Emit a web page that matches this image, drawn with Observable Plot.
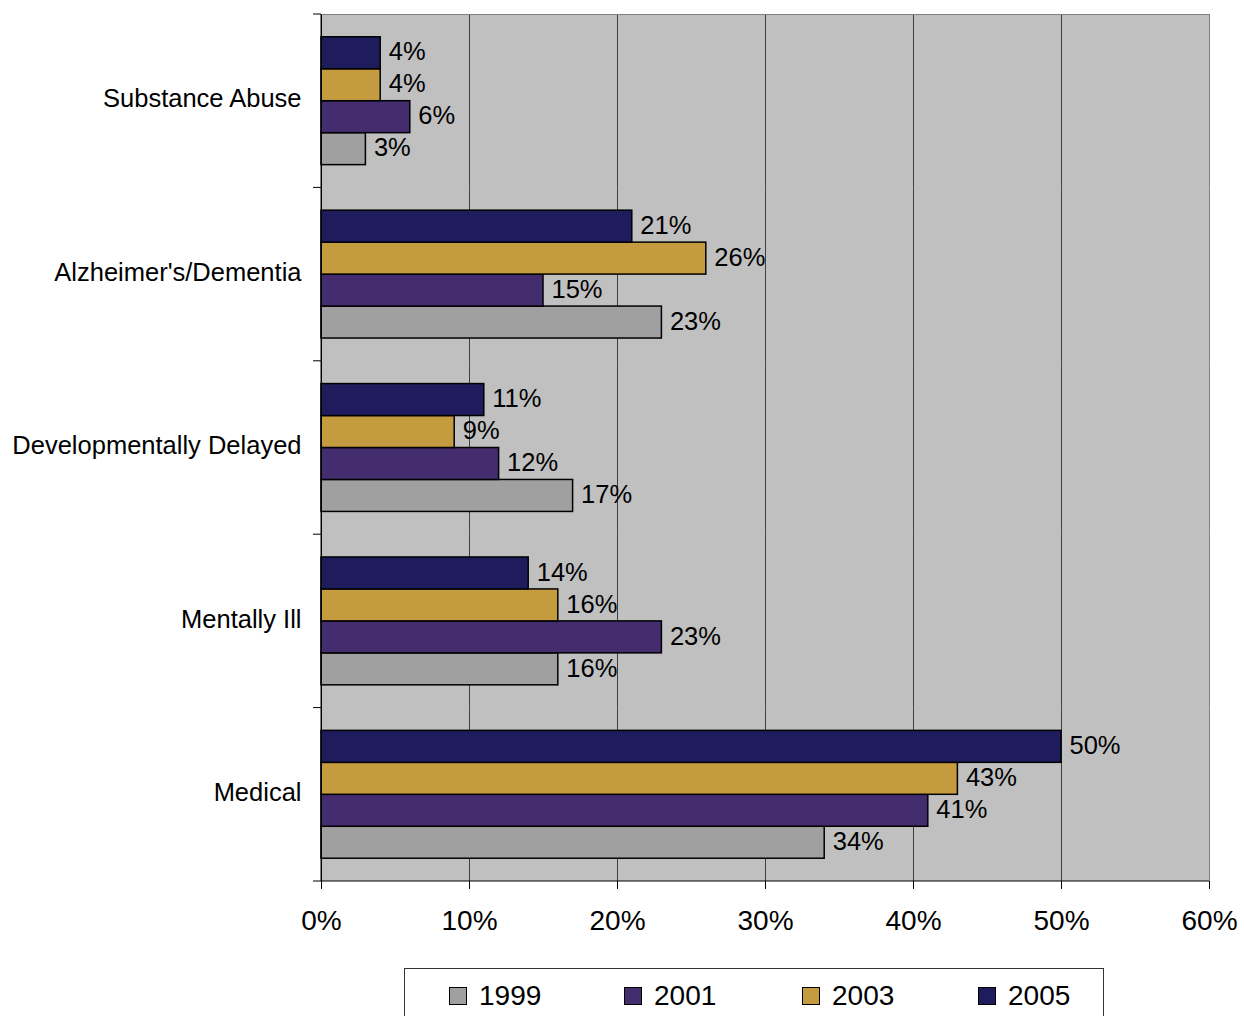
<!DOCTYPE html>
<html>
<head>
<meta charset="utf-8">
<script src="https://cdn.jsdelivr.net/npm/d3@7"></script>
<script src="https://cdn.jsdelivr.net/npm/@observablehq/plot@0.6"></script>
<style>
  html, body { margin: 0; padding: 0; background: #fff; }
  body { width: 1244px; height: 1016px; position: relative; overflow: hidden; font-family: "Liberation Sans", Arial, sans-serif; }
  #chart { position: absolute; left: 0; top: 0; }
  #legend { position: absolute; left: 404px; top: 968px; width: 700px; height: 70px; border: 1px solid #333; box-sizing: border-box; background: #fff; }
  .item { position: absolute; top: 11px; display: flex; align-items: center; font-size: 28px; color: #000; }
  .sw { width: 16px; height: 16px; border: 1px solid #000; margin-right: 12px; }
</style>
</head>
<body>
<div id="chart"></div>
<div id="legend"></div>
<script>
const categories = ["Substance Abuse", "Alzheimer's/Dementia", "Developmentally Delayed", "Mentally Ill", "Medical"];
const years = ["1999", "2001", "2003", "2005"];
const values1999 = [3, 23, 17, 16, 34];
const values2001 = [6, 15, 12, 23, 41];
const values2003 = [4, 26, 9, 16, 43];
const values2005 = [4, 21, 11, 14, 50];
const xTicks = [0, 10, 20, 30, 40, 50, 60];
const colors = ["#a0a0a0", "#432d6e", "#c59b40", "#1e1c5c"];

const series = {"1999": values1999, "2001": values2001, "2003": values2003, "2005": values2005};
const data = [];
categories.forEach((c, i) => years.forEach(y => data.push({category: c, year: y, value: series[y][i]})));

const plot = Plot.plot({
  width: 1244,
  height: 955,
  marginLeft: 321,
  marginRight: 35,
  marginTop: 14,
  marginBottom: 74,
  style: {fontFamily: "'Liberation Sans', Arial, sans-serif", fontSize: "25px", color: "#000", background: "transparent"},
  x: {domain: [0, 60]},
  fy: {domain: categories, padding: 0, round: false},
  y: {domain: ["2005", "2003", "2001", "1999"], paddingInner: 0, paddingOuter: 0.7125, round: false, axis: null},
  color: {domain: years, range: colors},
  marks: [
    Plot.ruleX([10, 20, 30, 40, 50], {stroke: "#404040", strokeWidth: 1}),
    Plot.ruleX([60], {stroke: "#808080", strokeWidth: 1}),
    Plot.barX(data, {x: "value", y: "year", fy: "category", fill: "year", stroke: "#000", strokeWidth: 1.5}),
    Plot.text(data, {x: "value", y: "year", fy: "category", text: d => d.value + "%", textAnchor: "start", dx: 8, dy: -1, fontSize: 25.5, fill: "#000"}),
    Plot.ruleX([0], {stroke: "#000", strokeWidth: 1}),
    Plot.axisX({ticks: xTicks, tickFormat: d => d + "%", tickSize: 8, tickPadding: 21, fontSize: 28, label: null, stroke: "#000"}),
    Plot.axisFy({anchor: "left", tickSize: 0, tickPadding: 20, fontSize: 25.5, dy: -2, label: null})
  ]
});
document.getElementById("chart").appendChild(plot);

// decorations through the plot's own scales
(function () {
  const svg = d3.select(plot);
  const fy = plot.scale("fy");
  const xs = plot.scale("x");
  const x0 = xs.apply(0), x60 = xs.apply(60);
  const bounds = categories.map(c => fy.apply(c)).concat([fy.apply(categories[categories.length - 1]) + fy.bandwidth]);
  const yTop = bounds[0], yBottom = bounds[bounds.length - 1];
  // background of the plotting area, placed behind all marks
  const firstG = plot.querySelector("g");
  d3.select(plot).insert("rect", () => firstG)
    .attr("x", x0).attr("y", yTop).attr("width", x60 - x0).attr("height", yBottom - yTop)
    .attr("fill", "#c0c0c0");
  const g = svg.append("g");
  g.append("line").attr("x1", x0).attr("x2", x60).attr("y1", yTop + 0.5).attr("y2", yTop + 0.5).attr("stroke", "#808080");
  g.append("line").attr("x1", x0).attr("x2", x60).attr("y1", yBottom).attr("y2", yBottom).attr("stroke", "#000");
  g.append("line").attr("x1", x0).attr("x2", x0).attr("y1", yTop).attr("y2", yBottom).attr("stroke", "#000");
  bounds.forEach(b => g.append("line").attr("x1", x0 - 8).attr("x2", x0).attr("y1", b).attr("y2", b).attr("stroke", "#000"));
})();

// legend
const legendX = [44, 219, 397, 573];
const legendSel = d3.select("#legend");
years.forEach((y, i) => {
  const it = legendSel.append("div").attr("class", "item").style("left", legendX[i] + "px");
  it.append("div").attr("class", "sw").style("background", colors[i]);
  it.append("span").text(y);
});
</script>
</body>
</html>
